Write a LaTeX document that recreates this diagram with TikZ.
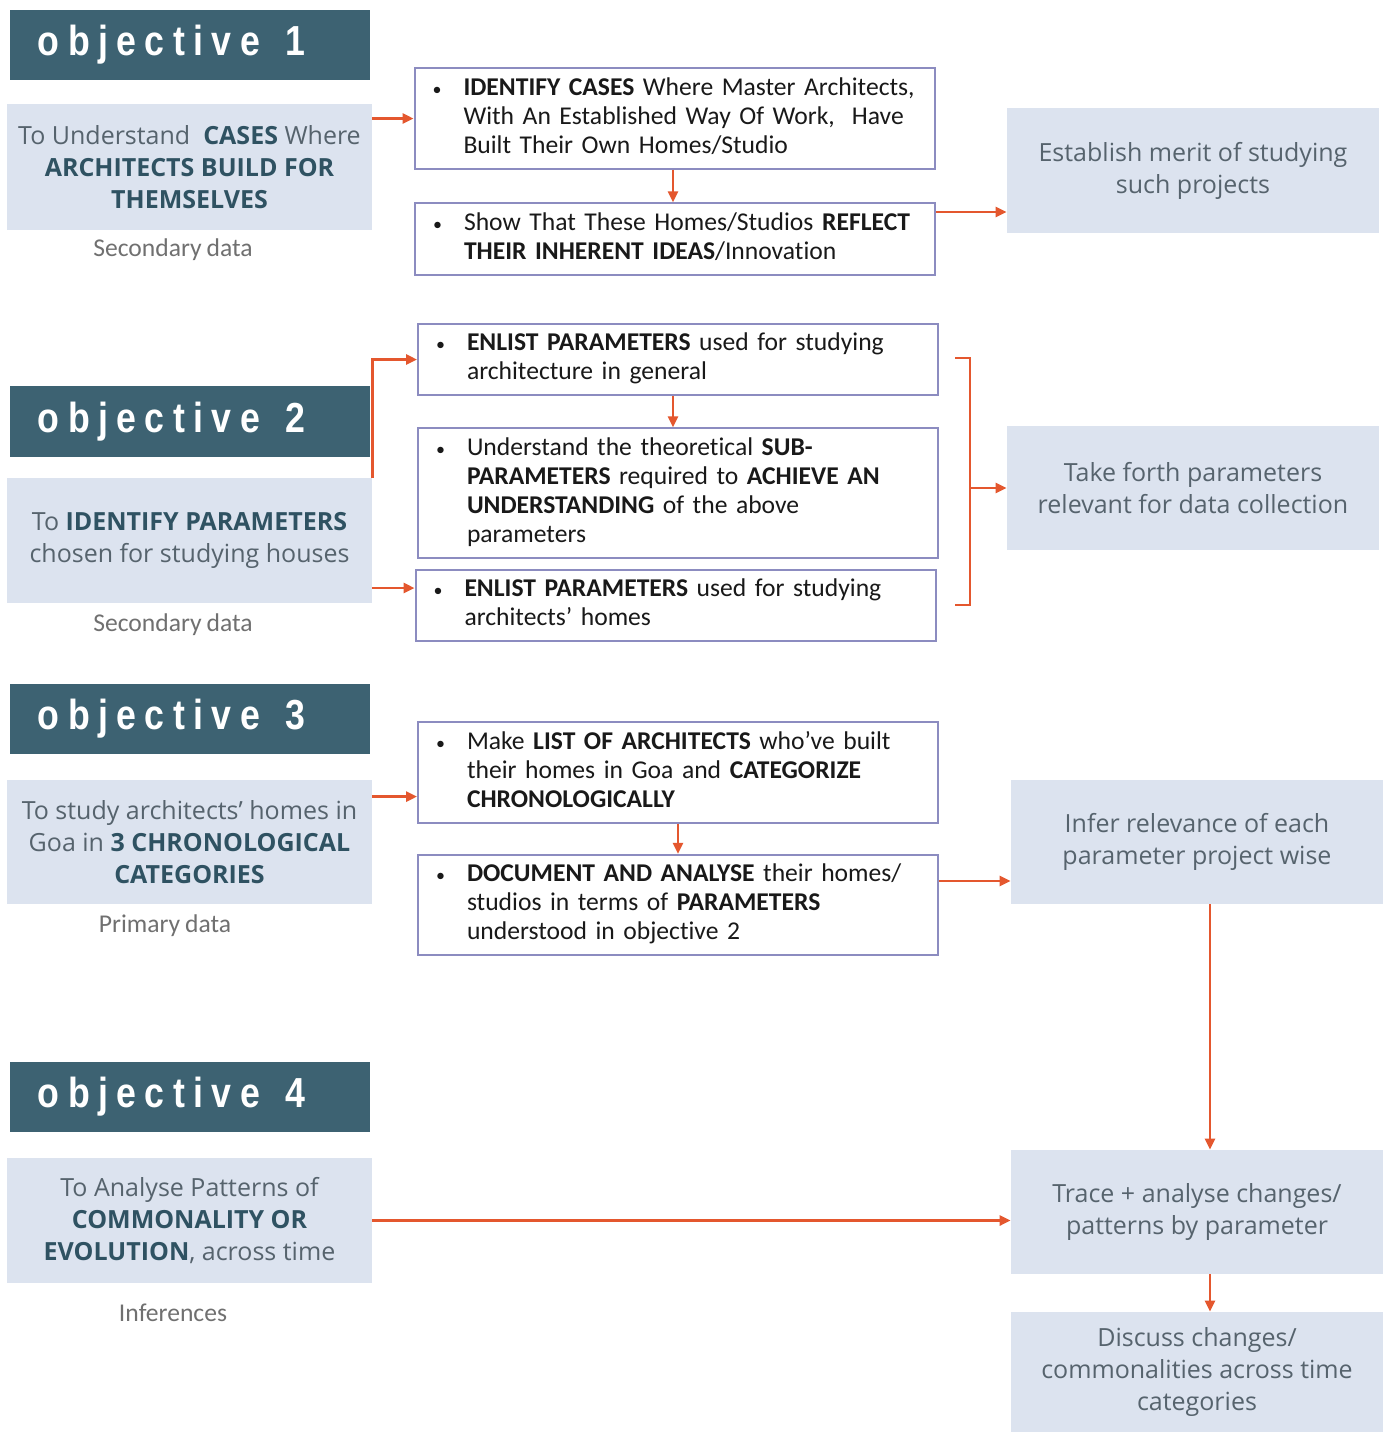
\documentclass[tikz,border=0pt]{standalone}
\usepackage{fontspec}
\setmainfont[WordSpace=0.85,Ligatures=NoCommon]{Carlito}
\newfontfamily\descfont{Open Sans}
\newfontfamily\headfont[LetterSpace=20,FakeStretch=0.85]{Liberation Sans}
\usetikzlibrary{arrows.meta,calc}
\definecolor{headc}{HTML}{3D6272}
\definecolor{lightc}{HTML}{DCE3EF}
\definecolor{edgec}{HTML}{8C8CC0}
\definecolor{arrc}{HTML}{E4572E}
\definecolor{desctxt}{HTML}{56636D}
\definecolor{descbold}{HTML}{2F5262}
\definecolor{captc}{HTML}{707070}
\newcommand{\db}[1]{{\bfseries\color{descbold}#1}}
\newcommand{\bl}[1]{\begin{tabular}{@{}p{15.5pt}@{}l@{}}{\fontsize{9}{9}\selectfont\textbullet} & #1\end{tabular}}
\newcommand{\objt}[1]{objective\hspace{13pt}#1}
\begin{document}
\begin{tikzpicture}[x=0.5pt,y=-0.5pt,
  headbox/.style={fill=headc, text=white, minimum width=180pt, minimum height=35pt,
    inner xsep=14pt, text width=152pt, align=left, font=\headfont\bfseries\fontsize{21}{24}\selectfont},
  descbox/.style={fill=lightc, text=desctxt, minimum width=182.5pt, minimum height=62.5pt,
    align=center, font=\descfont\fontsize{12.5}{16}\selectfont},
  rbox/.style={fill=lightc, text=desctxt, minimum width=186pt, minimum height=62pt,
    align=center, font=\descfont\fontsize{12.5}{16}\selectfont},
  midbox/.style={draw=edgec, line width=1pt, fill=white, text=black!90, minimum width=260pt,
    inner xsep=9pt, text width=242pt, align=left, font=\fontsize{12.8}{14.5}\selectfont},
  capt/.style={text=captc, font=\fontsize{12.8}{14}\selectfont},
  arr/.style={draw=arrc, line width=1.3pt, -{Triangle[length=5.5pt,width=5pt]}},
  brk/.style={draw=arrc, line width=1.3pt}
]
\useasboundingbox[fill=white] (0,0) rectangle (1384,1432);

% objective headers
\node[headbox] (h1) at (190,45) {\objt{1}};
\node[headbox, minimum height=35.5pt] (h2) at (190,421.5) {\objt{2}};
\node[headbox] (h3) at (190,719) {\objt{3}};
\node[headbox] (h4) at (190,1097) {\objt{4}};

% description boxes
\node[descbox, minimum height=63pt] (d1) at (189.5,167) {To Understand \ \db{CASES} Where\\ \db{ARCHITECTS BUILD FOR}\\ \db{THEMSELVES}};
\node[descbox] (d2) at (189.5,540.5) {To \db{IDENTIFY PARAMETERS}\\ chosen for studying houses};
\node[descbox, minimum height=62pt] (d3) at (189.5,842) {To study architects’ homes in\\ Goa in \db{3 CHRONOLOGICAL}\\ \db{CATEGORIES}};
\node[descbox] (d4) at (189.5,1220.5) {To Analyse Patterns of\\ \db{COMMONALITY OR}\\ \db{EVOLUTION}, across time};

% captions
\node[capt] (c1) at (173,250) {Secondary data};
\node[capt] (c2) at (173,625) {Secondary data};
\node[capt] (c3) at (165,926) {Primary data};
\node[capt] (c4) at (173,1313) {Inferences};

% middle boxes
\node[midbox, minimum height=48.5pt] (b1) at (674.5,118.5) {\bl{\textbf{IDENTIFY CASES} Where Master Architects,\\ & With An Established Way Of Work, \ Have\\ & Built Their Own Homes/Studio}};
\node[midbox, minimum height=35pt] (b2) at (675,239) {\bl{Show That These Homes/Studios \textbf{REFLECT}\\ & \textbf{THEIR INHERENT IDEAS}/Innovation}};
\node[midbox, minimum height=34.5pt] (b3) at (678,359.5) {\bl{\textbf{ENLIST PARAMETERS} used for studying\\ & architecture in general}};
\node[midbox, minimum height=63pt] (b4) at (678,493) {\bl{Understand the theoretical \textbf{SUB-}\\ & \textbf{PARAMETERS} required to \textbf{ACHIEVE AN}\\ & \textbf{UNDERSTANDING} of the above\\ & parameters}};
\node[midbox, minimum width=259.5pt, minimum height=34.5pt] (b5) at (675.5,605.5) {\bl{\textbf{ENLIST PARAMETERS} used for studying\\ & architects’ homes}};
\node[midbox, minimum height=48.5pt] (b6) at (678,772.5) {\bl{Make \textbf{LIST OF ARCHITECTS} who’ve built\\ & their homes in Goa and \textbf{CATEGORIZE}\\ & \textbf{CHRONOLOGICALLY}}};
\node[midbox, minimum height=48pt] (b7) at (678,905) {\bl{\textbf{DOCUMENT AND ANALYSE} their homes/\\ & studios in terms of \textbf{PARAMETERS}\\ & understood in objective 2}};

% right boxes
\node[rbox, minimum height=62.5pt] (r1) at (1193,170.5) {Establish merit of studying\\ such projects};
\node[rbox] (r2) at (1193,488) {Take forth parameters\\ relevant for data collection};
\node[rbox] (r3) at (1197,842) {Infer relevance of each\\ parameter project wise};
\node[rbox] (r4) at (1197,1212) {Trace + analyse changes/\\ patterns by parameter};
\node[rbox, minimum height=60pt] (r5) at (1197,1372) {Discuss changes/\\ commonalities across time\\ categories};

% connectors
\draw[arr] (d1.north east |- b1.west) -- (b1.west);
\draw[arr] (b1.south -| 673,0) -- (673,0 |- b2.north);
\coordinate (p2) at ($(b2.east)+(0,-27)$);
\draw[arr] (p2) -- (r1.west |- p2);

\draw[arr] (d2.north east) -- (d2.north east |- b3.west) -- (b3.west);
\coordinate (p5) at ($(d2.east)+(0,47.5)$);
\draw[arr] (p5) -- (b5.west |- p5);
\draw[arr] (b3.south -| 673,0) -- (673,0 |- b4.north);

\coordinate (br1) at (955,358);
\coordinate (br2) at (970,358);
\coordinate (br3) at (970,605);
\coordinate (br4) at (955,605);
\coordinate (brm) at (970,488);
\draw[brk] (br1) -- (br2) -- (br3) -- (br4);
\draw[arr] (brm) -- (r2.west);

\coordinate (p6) at ($(d3.north east)+(0,17)$);
\draw[arr] (p6) -- (b6.west |- p6);
\draw[arr] (b6.south) -- (b7.north);
\coordinate (p7) at ($(b7.east)+(0,-24)$);
\draw[arr] (p7) -- (r3.west |- p7);
\coordinate (p8) at ($(r3.south)+(13,0)$);
\draw[arr] (p8) -- (p8 |- r4.north);
\draw[arr, line width=1.5pt] (d4.east) -- (r4.west |- d4.east);
\coordinate (p9) at ($(r4.south)+(13,0)$);
\draw[arr] (p9) -- (p9 |- r5.north);
\end{tikzpicture}
\end{document}
